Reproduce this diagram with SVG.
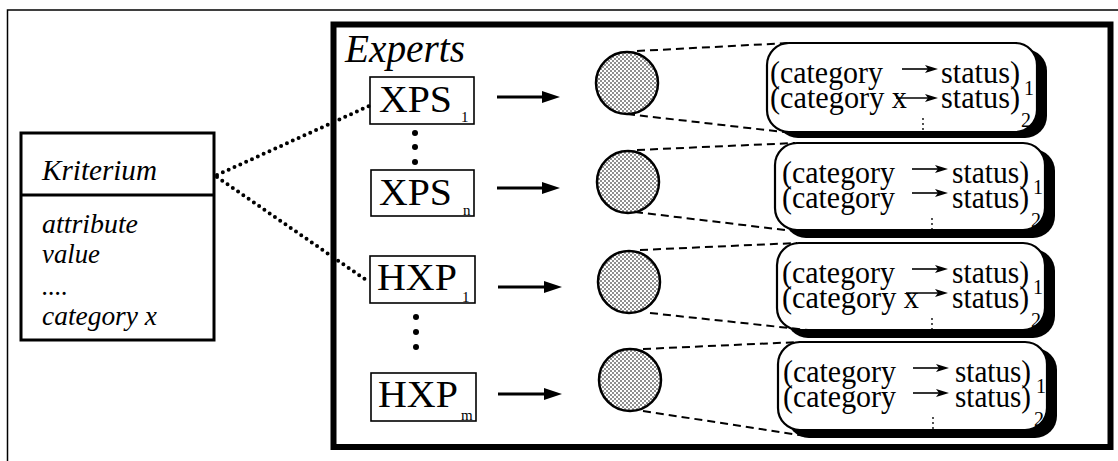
<svg xmlns="http://www.w3.org/2000/svg" width="1118" height="461" viewBox="0 0 1118 461">
<defs>
<pattern id="dots" width="4" height="4" patternUnits="userSpaceOnUse"><rect width="4" height="4" fill="#fff"/><circle cx="1" cy="1" r="0.8" fill="#000"/><circle cx="3" cy="3" r="0.8" fill="#000"/></pattern>
<marker id="bigArrow" markerUnits="userSpaceOnUse" markerWidth="18" markerHeight="12" refX="6" refY="6" orient="auto"><path d="M0,0 L18,6 L0,12 z" fill="#000"/></marker>
<marker id="smallArrow" markerUnits="userSpaceOnUse" markerWidth="13" markerHeight="8" refX="4" refY="4" orient="auto"><path d="M0,0 L13,4 L0,8 L3,4 z" fill="#000"/></marker>
</defs>
<style>
.frame{fill:none;stroke:#000;stroke-width:1.5}
.thick{fill:none;stroke:#000;stroke-width:6}
.ubox{fill:#fff;stroke:#000;stroke-width:3}
.xbox{fill:#fff;stroke:#000;stroke-width:1.6}
.circ{fill:url(#dots);stroke:#000;stroke-width:2.5}
.rbox{fill:#fff;stroke:#000;stroke-width:2.2}
.shadow{fill:#000}
.dotted{fill:none;stroke:#000;stroke-width:4;stroke-linecap:round;stroke-dasharray:0 6.4}
.dashed{fill:none;stroke:#000;stroke-width:2;stroke-dasharray:8 5}
.big{stroke:#000;stroke-width:3;marker-end:url(#bigArrow)}
.sm{stroke:#000;stroke-width:1.6;marker-end:url(#smallArrow)}
</style>

<path class="frame" d="M7.5,461 V10 H1118"/>

<g id="kriterium">
<rect class="ubox" x="21" y="133" width="193" height="207"/>
<line x1="21" y1="195" x2="214" y2="195" stroke="#000" stroke-width="3"/>
<g font-family="Liberation Serif, Times New Roman, serif" font-style="italic" fill="#000">
<text x="42" y="180" font-size="29" textLength="115" lengthAdjust="spacingAndGlyphs">Kriterium</text>
<text x="42" y="233" font-size="28" textLength="96" lengthAdjust="spacingAndGlyphs">attribute</text>
<text x="42" y="263" font-size="28" textLength="58" lengthAdjust="spacingAndGlyphs">value</text>
<text x="42" y="295" font-size="28" textLength="26" lengthAdjust="spacingAndGlyphs">....</text>
<text x="42" y="325" font-size="28" textLength="115" lengthAdjust="spacingAndGlyphs">category x</text>
</g>
</g>

<g id="experts">
<rect class="thick" x="333.5" y="24.5" width="777" height="422.5"/>
<text x="345" y="62" font-family="Liberation Serif, Times New Roman, serif" font-style="italic" font-size="40" textLength="120" lengthAdjust="spacingAndGlyphs">Experts</text>
</g>

<g font-family="Liberation Serif, Times New Roman, serif" fill="#000">
<g id="xps1">
<rect class="xbox" x="370" y="77" width="104" height="47"/>
<text x="379" y="112" font-size="38" textLength="73" lengthAdjust="spacingAndGlyphs">XPS</text>
<text x="461" y="122" font-size="15">1</text>
</g>
<g id="xps-dots">
<circle cx="415" cy="133" r="3"/><circle cx="415" cy="147" r="3"/><circle cx="415" cy="162" r="3"/>
</g>
<g id="xpsn">
<rect class="xbox" x="371" y="170" width="103" height="46"/>
<text x="379" y="205" font-size="38" textLength="73" lengthAdjust="spacingAndGlyphs">XPS</text>
<text x="463" y="215" font-size="15">n</text>
</g>
<g id="hxp1">
<rect class="xbox" x="370" y="256" width="105" height="47"/>
<text x="377" y="290" font-size="38" textLength="80" lengthAdjust="spacingAndGlyphs">HXP</text>
<text x="462" y="302" font-size="15">1</text>
</g>
<g id="hxp-dots">
<circle cx="416" cy="317" r="3"/><circle cx="416" cy="332" r="3"/><circle cx="416" cy="347" r="3"/>
</g>
<g id="hxpm">
<rect class="xbox" x="371" y="373" width="105" height="48"/>
<text x="378" y="407" font-size="38" textLength="80" lengthAdjust="spacingAndGlyphs">HXP</text>
<text x="461" y="420" font-size="15">m</text>
</g>
</g>

<g id="circle1"><circle class="circ" cx="627" cy="83" r="31"/></g>
<g id="circle2"><circle class="circ" cx="628" cy="182" r="31"/></g>
<g id="circle3"><circle class="circ" cx="629" cy="282" r="31"/></g>
<g id="circle4"><circle class="circ" cx="630" cy="380" r="31"/></g>

<g font-family="Liberation Serif, Times New Roman, serif" fill="#000" font-size="32">
<g id="rules1">
<rect class="shadow" x="776" y="49" width="271" height="89" rx="22"/>
<rect class="rbox" x="767" y="43" width="270" height="89" rx="22"/>
<text x="770" y="83" textLength="113" lengthAdjust="spacingAndGlyphs">(category</text>
<line class="sm" x1="902" y1="69" x2="929" y2="69"/>
<text x="941" y="83" textLength="79" lengthAdjust="spacingAndGlyphs">status)</text>
<text x="1024" y="95" font-size="20">1</text>
<text x="770" y="108" textLength="137" lengthAdjust="spacingAndGlyphs">(category x</text>
<line class="sm" x1="896" y1="98" x2="929" y2="98"/>
<text x="941" y="108" textLength="79" lengthAdjust="spacingAndGlyphs">status)</text>
<text x="1021" y="127" font-size="20">2</text>
<circle cx="923" cy="119" r="0.9"/><circle cx="923" cy="124" r="0.9"/><circle cx="923" cy="129" r="0.9"/>
</g>

<g id="rules2">
<rect class="shadow" x="784" y="149" width="271" height="89" rx="22"/>
<rect class="rbox" x="775" y="143" width="270" height="87" rx="22"/>
<text x="782" y="183" textLength="113" lengthAdjust="spacingAndGlyphs">(category</text>
<line class="sm" x1="912" y1="169" x2="939" y2="169"/>
<text x="952" y="183" textLength="77" lengthAdjust="spacingAndGlyphs">status)</text>
<text x="1033" y="194" font-size="20">1</text>
<text x="782" y="208" textLength="113" lengthAdjust="spacingAndGlyphs">(category</text>
<line class="sm" x1="912" y1="193" x2="939" y2="193"/>
<text x="952" y="208" textLength="77" lengthAdjust="spacingAndGlyphs">status)</text>
<text x="1031" y="227" font-size="20">2</text>
<circle cx="932" cy="219" r="0.9"/><circle cx="932" cy="224" r="0.9"/><circle cx="932" cy="229" r="0.9"/>
</g>

<g id="rules3">
<rect class="shadow" x="786" y="249" width="269" height="89" rx="22"/>
<rect class="rbox" x="777" y="243" width="268" height="87" rx="22"/>
<text x="782" y="283" textLength="113" lengthAdjust="spacingAndGlyphs">(category</text>
<line class="sm" x1="912" y1="269" x2="939" y2="269"/>
<text x="952" y="283" textLength="77" lengthAdjust="spacingAndGlyphs">status)</text>
<text x="1033" y="294" font-size="20">1</text>
<text x="782" y="308" textLength="137" lengthAdjust="spacingAndGlyphs">(category x</text>
<line class="sm" x1="906" y1="293" x2="939" y2="293"/>
<text x="952" y="308" textLength="77" lengthAdjust="spacingAndGlyphs">status)</text>
<text x="1031" y="327" font-size="20">2</text>
<circle cx="932" cy="319" r="0.9"/><circle cx="932" cy="324" r="0.9"/><circle cx="932" cy="329" r="0.9"/>
</g>

<g id="rules4">
<rect class="shadow" x="787" y="348" width="270" height="90" rx="22"/>
<rect class="rbox" x="778" y="342" width="269" height="88" rx="22"/>
<text x="783" y="382" textLength="113" lengthAdjust="spacingAndGlyphs">(category</text>
<line class="sm" x1="913" y1="368" x2="940" y2="368"/>
<text x="955" y="382" textLength="76" lengthAdjust="spacingAndGlyphs">status)</text>
<text x="1036" y="393" font-size="20">1</text>
<text x="783" y="407" textLength="113" lengthAdjust="spacingAndGlyphs">(category</text>
<line class="sm" x1="913" y1="393" x2="940" y2="393"/>
<text x="955" y="407" textLength="76" lengthAdjust="spacingAndGlyphs">status)</text>
<text x="1034" y="426" font-size="20">2</text>
<circle cx="933" cy="418" r="0.9"/><circle cx="933" cy="423" r="0.9"/><circle cx="933" cy="428" r="0.9"/>
</g>
</g>

<g id="connectors">
<line class="dotted" x1="217" y1="175" x2="369" y2="106"/>
<line class="dotted" x1="217" y1="177" x2="369" y2="282"/>
<line class="big" x1="497" y1="97" x2="548" y2="97"/>
<line class="big" x1="497" y1="188" x2="548" y2="188"/>
<line class="big" x1="498" y1="287" x2="550" y2="287"/>
<line class="big" x1="498" y1="394" x2="550" y2="394"/>
<line class="dashed" x1="637" y1="51" x2="789" y2="43"/>
<line class="dashed" x1="627" y1="114" x2="792" y2="133"/>
<line class="dashed" x1="637" y1="150" x2="795" y2="143"/>
<line class="dashed" x1="635" y1="212" x2="785" y2="230"/>
<line class="dashed" x1="640" y1="250" x2="797" y2="243"/>
<line class="dashed" x1="650" y1="313" x2="808" y2="330"/>
<line class="dashed" x1="643" y1="349" x2="800" y2="342"/>
<line class="dashed" x1="643" y1="411" x2="806" y2="436"/>
</g>
</svg>
